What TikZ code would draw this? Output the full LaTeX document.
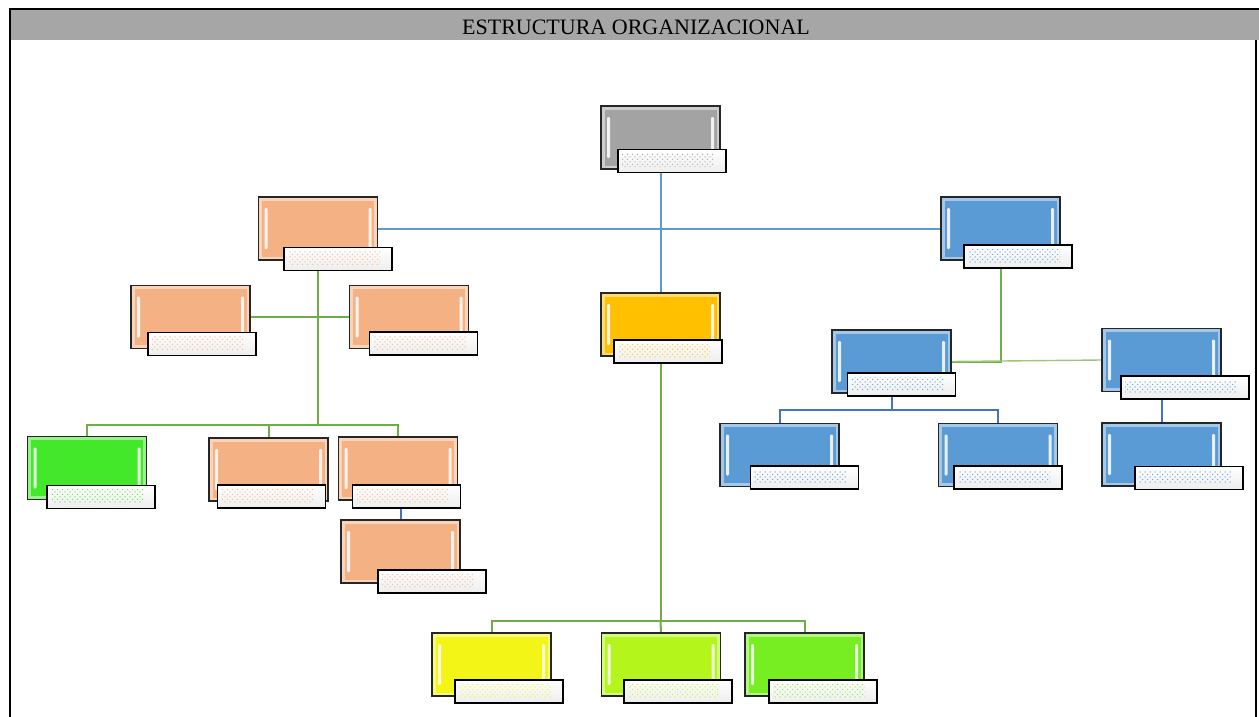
\documentclass[tikz,border=0pt]{standalone}
\usepackage{fontspec}
\setmainfont{Liberation Serif}
\usetikzlibrary{patterns,backgrounds}

\definecolor{bannergrey}{HTML}{A6A6A6}
\definecolor{cGrey}{HTML}{A3A3A3}
\definecolor{cPeach}{HTML}{F4B183}
\definecolor{cBlue}{HTML}{5B9BD5}
\definecolor{cGold}{HTML}{FFC000}
\definecolor{cGreenA}{HTML}{44E82B}
\definecolor{cYel}{HTML}{F2F516}
\definecolor{cLime}{HTML}{B4F51C}
\definecolor{cGreenB}{HTML}{76EE22}
\definecolor{lnBlue}{HTML}{5B9BD5}
\definecolor{lnDeep}{HTML}{4472C4}
\definecolor{lnGreen}{HTML}{70AD47}

% coarse dot texture for the caption strips
\pgfdeclarepatternformonly{capdots}{\pgfqpoint{-1pt}{-1pt}}{\pgfqpoint{5pt}{5pt}}{\pgfqpoint{5pt}{5pt}}{%
  \pgfpathcircle{\pgfqpoint{0pt}{0pt}}{0.75pt}%
  \pgfpathcircle{\pgfqpoint{2.5pt}{2.5pt}}{0.75pt}%
  \pgfusepath{fill}}

\tikzset{
  orgbox/.style={rectangle, draw=black!85, line width=1.5pt, fill=#1,
    minimum width=119pt, minimum height=63pt, inner sep=0pt,
    path picture={
      \draw[#1!55!white, line width=3.5pt]
        ([shift={(1.75pt,-1.75pt)}]path picture bounding box.north west) rectangle
        ([shift={(-1.75pt,1.75pt)}]path picture bounding box.south east);
      \fill[#1!15!white, rounded corners=1.2pt]
        ([shift={(6pt,-11pt)}]path picture bounding box.north west) rectangle
        ([shift={(9pt,11pt)}]path picture bounding box.south west);
      \fill[#1!15!white, rounded corners=1.2pt]
        ([shift={(-9pt,-11pt)}]path picture bounding box.north east) rectangle
        ([shift={(-6pt,11pt)}]path picture bounding box.south east);
    }},
  orglab/.style={rectangle, draw=black, line width=1.8pt,
    minimum width=108pt, minimum height=23pt, inner sep=0pt,
    top color=white, bottom color=black!7,
    path picture={
      \fill[pattern=capdots, pattern color=#1!85!white]
        ([shift={(4pt,-4pt)}]path picture bounding box.north west) rectangle
        ([shift={(-12pt,6pt)}]path picture bounding box.south east);
    }},
  link/.style={line width=2pt},
}

% one unit = coloured box plus its caption strip
\newcommand{\orgunit}[6]{%
  \node[orgbox=#4] (#1) at (#2,#3) {};
  \node[orglab=#4] (#1l) at (#5,#6) {};
}

\begin{document}
\begin{tikzpicture}[x=1pt,y=-1pt]
\useasboundingbox (0,0) rectangle (1259,717);

% frame and title banner
\fill[bannergrey] (10,10) rectangle (1259,40);
\draw[line width=2pt] (10,717) -- (10,9) -- (1259,9);
\draw[line width=1.5pt] (1256,40) -- (1256,717);
\node (title) at (636,27) {\fontsize{22}{24}\selectfont ESTRUCTURA ORGANIZACIONAL};

% units
\orgunit{top}{660.5}{137.5}{cGrey}{672}{161}
\orgunit{A}{318}{228.5}{cPeach}{338}{259}
\orgunit{B}{1000.5}{228.5}{cBlue}{1018}{256.5}
\orgunit{C}{660.5}{324.5}{cGold}{668}{351.5}
\orgunit{La}{190.5}{317}{cPeach}{202}{344}
\orgunit{Lb}{409}{317}{cPeach}{423.5}{343.5}
\orgunit{G}{87}{468}{cGreenA}{101}{497}
\orgunit{Lc}{268.5}{469.5}{cPeach}{271.5}{496.5}
\orgunit{Ld}{398}{468.5}{cPeach}{406.5}{496.5}
\orgunit{Le}{400.5}{551.5}{cPeach}{432}{581.5}
\orgunit{Ba}{891.5}{361.5}{cBlue}{901.5}{384.5}
\node[orgbox=cBlue] (Bb) at (1161.5,360) {};
\node[orglab=cBlue, minimum width=128pt] (Bbl) at (1185,387.5) {};
\orgunit{Bc}{779.5}{455}{cBlue}{804.5}{477.5}
\orgunit{Bd}{998}{455}{cBlue}{1008}{477.5}
\orgunit{Be}{1161.5}{454.5}{cBlue}{1189}{478}
\orgunit{Ya}{491.5}{664.5}{cYel}{509}{691.5}
\orgunit{Yb}{661}{664.5}{cLime}{678}{691.5}
\orgunit{Yc}{804.5}{664.5}{cGreenB}{823}{691.5}

% junctions
\coordinate (jL) at (318,425);
\coordinate (jC) at (660.5,621);
\coordinate (jB) at (891.5,410);

% connectors
\begin{scope}[on background layer]
  \draw[link, lnBlue] (top |- topl.south) -- (C.north);
  \draw[link, lnBlue] (A.east) -- (B.west);

  \draw[link, lnGreen] (A |- Al.south) -- (jL);
  \draw[link, lnGreen] (La.east) -- (Lb.west);
  \draw[link, lnGreen] (G.north) |- (jL) -| (Ld.north);
  \draw[link, lnGreen] (Lc.north) -- (Lc.north |- jL);
  \draw[link, lnDeep] (Le.north |- Ldl.south) -- (Le.north);

  \draw[link, lnGreen] (C |- Cl.south) -- (jC);
  \draw[link, lnGreen] (Ya.north) |- (jC) -| (Yc.north);
  \draw[link, lnGreen] (Yb.north) -- (jC);

  \draw[link, lnGreen] (B |- Bl.south) |- (Ba.east);
  \draw[line width=1.4pt, lnGreen!70!white] (Ba.east) -- (Bb.west);
  \draw[link, lnDeep] (Ba |- Bal.south) -- (jB);
  \draw[link, lnDeep] (Bc.north) |- (jB) -| (Bd.north);
  \draw[link, lnDeep] (Bb |- Bbl.south) -- (Be.north);
\end{scope}
\end{tikzpicture}
\end{document}
